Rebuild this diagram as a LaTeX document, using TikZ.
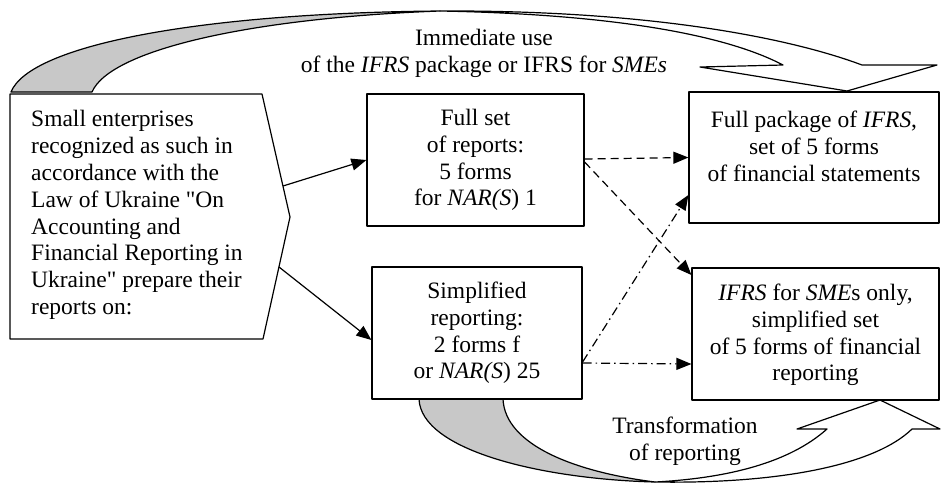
\documentclass[tikz,border=0pt]{standalone}
\usepackage{fontspec}
\setmainfont{Liberation Serif}[Ligatures=TeXOff]
\usetikzlibrary{arrows.meta}
\definecolor{ribbon}{RGB}{200,200,200}
\begin{document}
\begin{tikzpicture}[x=1pt,y=-1pt,line join=round,
  ln/.style={draw=black,line width=1.2pt},
  boxnode/.style={draw=black,line width=1.2pt,inner sep=0pt,rectangle},
  txt/.style={align=center,inner sep=0pt,font=\fontsize{23.5}{26.8}\selectfont},
  arr/.style={line width=1.2pt,-{Triangle[length=15pt,width=12pt]}},
  dsh/.style={arr,dash pattern=on 8pt off 5pt},
  dshdot/.style={arr,dash pattern=on 9pt off 4pt on 1.5pt off 4pt}]
\useasboundingbox (0,0) rectangle (941,483);

% top ribbon arrow
\fill[ribbon] (11,92) .. controls (30,45) and (200,13) .. (440,11)
  .. controls (250,18) and (110,50) .. (92,92) -- cycle;
\draw[ln] (11,92) .. controls (30,45) and (200,13) .. (440,11)
  .. controls (250,18) and (110,50) .. (92,92) -- cycle;
\draw[ln,fill=white] (440,11) .. controls (650,10) and (790,38) .. (862,65)
  -- (937,65) -- (847,91) -- (700,67) -- (783,65)
  .. controls (720,32) and (600,14) .. (440,11) -- cycle;

% bottom ribbon arrow
\fill[ribbon] (419,399) .. controls (421,450) and (540,479) .. (655,482)
  .. controls (575,472) and (505,445) .. (503,399) -- cycle;
\draw[ln] (419,399) .. controls (421,450) and (540,479) .. (655,482)
  .. controls (575,472) and (505,445) .. (503,399);
\draw[ln,fill=white] (655,482) .. controls (780,484) and (875,465) .. (912,429)
  -- (940,429) -- (880,400) -- (797,429) -- (827,429)
  .. controls (790,462) and (730,478) .. (655,482) -- cycle;

% left pentagon
\draw[ln] (10,94) -- (262,94) -- (290,217) -- (263,339) -- (10,339) -- cycle;
\coordinate (p1) at (283,186);
\coordinate (p2) at (279,267);
\node[txt,align=left,anchor=west] (tl) at (31,215) {Small enterprises\\recognized as such in\\accordance with the\\Law of Ukraine "On\\Accounting and\\Financial Reporting in\\Ukraine" prepare their\\reports on:};

% boxes
\node[boxnode,minimum width=217pt,minimum height=132pt] (b1) at (475.5,160) {};
\node[boxnode,fill=white,minimum width=210pt,minimum height=132pt] (b2) at (477,333) {};
\node[boxnode,minimum width=250pt,minimum height=131pt] (b3) at (814,157.5) {};
\node[boxnode,minimum width=247pt,minimum height=132pt] (b4) at (815.5,334) {};

\node[txt] (t1) at (475.5,160) {Full set\\of reports:\\5 forms\\for \textit{NAR(S}) 1};
\node[txt] (t2) at (477,333) {Simplified\\reporting:\\2 forms f\\or \textit{NAR(S}) 25};
\node[txt] (t3) at (814,146.5) {Full package of \textit{IFRS},\\set of 5 forms\\of financial statements};
\node[txt] (t4) at (815.5,335) {\textit{IFRS} for \textit{SME}s only,\\simplified set\\of 5 forms of financial\\reporting};

\node[txt] (ttop) at (484,53) {Immediate use\\of the \textit{IFRS} package or IFRS for \textit{SMEs}};
\node[txt] (tbot) at (685,441) {Transformation\\of reporting};

% connectors
\draw[arr] (p1) -- (b1.west);
\draw[arr] (p2) -- ([yshift=-7pt]b2.west);
\draw[dsh] ([yshift=1pt]b1.east) -- ([yshift=0pt]b3.west);
\draw[dsh] ([yshift=-2pt]b1.east) -- ([yshift=59pt]b4.west);
\draw[dshdot] ([yshift=-29pt]b2.east) -- ([yshift=-37.5pt]b3.west);
\draw[dshdot] ([yshift=-30pt]b2.east) -- ([yshift=-30pt]b4.west);
\end{tikzpicture}
\end{document}
